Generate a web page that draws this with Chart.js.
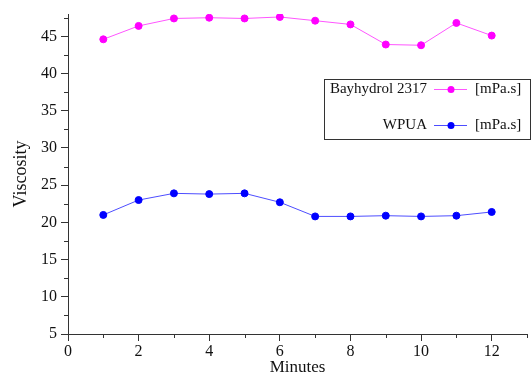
<!DOCTYPE html>
<html>
<head>
<meta charset="utf-8">
<script src="https://cdn.jsdelivr.net/npm/chart.js@4.4.0/dist/chart.umd.min.js"></script>
<style>
  body { margin: 0; background: #fff; }
  #wrap { width: 532px; height: 378px; }
</style>
</head>
<body>
<div id="wrap"><canvas id="viscChart"></canvas></div>
<script>
const minutes = [1, 2, 3, 4, 5, 6, 7, 8, 9, 10, 11, 12];
const bayhydrol = [44.6, 46.4, 47.4, 47.5, 47.4, 47.6, 47.1, 46.6, 43.9, 43.8, 46.8, 45.1];
const wpua = [21.0, 23.0, 23.9, 23.8, 23.9, 22.7, 20.8, 20.8, 20.9, 20.8, 20.9, 21.4];
const seriesNames = ['Bayhydrol 2317', 'WPUA'];
const unitLabel = '[mPa.s]';

const serif = "'Liberation Serif', 'DejaVu Serif', serif";
const axisColor = '#333';

// short minor ticks between the labelled ones
const minorTicks = {
  id: 'minorTicks',
  afterDraw(chart) {
    const { ctx, scales: { x, y } } = chart;
    ctx.save();
    ctx.strokeStyle = axisColor;
    ctx.lineWidth = 1;
    for (let v = 7.5; v < y.max; v += 5) {
      const py = Math.round(y.getPixelForValue(v)) + 0.5;
      ctx.beginPath();
      ctx.moveTo(y.right - 4, py);
      ctx.lineTo(y.right, py);
      ctx.stroke();
    }
    for (let v = 1; v <= x.max; v += 2) {
      const px = Math.round(x.getPixelForValue(v)) + 0.5;
      ctx.beginPath();
      ctx.moveTo(px, x.top);
      ctx.lineTo(px, x.top + 4);
      ctx.stroke();
    }
    ctx.restore();
  }
};

// boxed legend, right aligned
const boxLegend = {
  id: 'boxLegend',
  afterDraw(chart) {
    const ctx = chart.ctx;
    const left = 324, top = 79, right = 531, bottom = 140;
    ctx.save();
    ctx.fillStyle = '#fff';
    ctx.fillRect(left, top, right - left, bottom - top);
    ctx.strokeStyle = axisColor;
    ctx.lineWidth = 1;
    ctx.strokeRect(left + 0.5, top + 0.5, right - left - 1, bottom - top - 1);
    ctx.font = '15px ' + serif;
    ctx.textBaseline = 'middle';
    const rows = [89, 125];
    chart.data.datasets.forEach((ds, i) => {
      const ry = rows[i];
      ctx.fillStyle = '#111';
      ctx.textAlign = 'right';
      ctx.fillText(ds.label, 427, ry);
      ctx.strokeStyle = ds.borderColor;
      ctx.beginPath();
      ctx.moveTo(434, ry + 0.5);
      ctx.lineTo(467, ry + 0.5);
      ctx.stroke();
      ctx.fillStyle = ds.pointBackgroundColor;
      ctx.beginPath();
      ctx.arc(451, ry + 0.5, 3.5, 0, Math.PI * 2);
      ctx.fill();
      ctx.fillStyle = '#111';
      ctx.textAlign = 'left';
      ctx.fillText(unitLabel, 475, ry);
    });
    ctx.restore();
  }
};

new Chart(document.getElementById('viscChart'), {
  type: 'line',
  data: {
    labels: minutes,
    datasets: [{
      label: seriesNames[0],
      data: minutes.map((m, i) => ({ x: m, y: bayhydrol[i] })),
      borderColor: '#ff55ff',
      borderWidth: 1,
      pointBackgroundColor: '#ff00ff',
      pointBorderColor: '#ff00ff',
      pointRadius: 3.5,
      tension: 0
    }, {
      label: seriesNames[1],
      data: minutes.map((m, i) => ({ x: m, y: wpua[i] })),
      borderColor: '#4d4dff',
      borderWidth: 1,
      pointBackgroundColor: '#0000ff',
      pointBorderColor: '#0000ff',
      pointRadius: 3.5,
      tension: 0
    }]
  },
  options: {
    responsive: true,
    maintainAspectRatio: false,
    animation: false,
    layout: { padding: { top: 14, right: 2 } },
    plugins: {
      legend: { display: false },
      tooltip: { enabled: false }
    },
    scales: {
      x: {
        type: 'linear',
        min: 0,
        max: 13,
        afterFit: (s) => { s.height = 44; },
        border: { display: true, color: axisColor, width: 1 },
        grid: {
          drawOnChartArea: false,
          drawTicks: true,
          tickLength: 7,
          tickColor: (c) => (c.tick && c.tick.value % 2 === 0 ? axisColor : 'rgba(0,0,0,0)')
        },
        ticks: {
          stepSize: 1,
          autoSkip: false,
          maxRotation: 0,
          padding: 1,
          color: '#111',
          font: { family: serif, size: 16 },
          callback: (v) => (v % 2 === 0 ? v : '')
        },
        title: {
          display: true,
          text: 'Minutes',
          color: '#111',
          font: { family: serif, size: 17 },
          padding: { top: 2, bottom: 0 }
        }
      },
      y: {
        min: 5,
        max: 48,
        afterFit: (s) => { s.width = 68; },
        border: { display: true, color: axisColor, width: 1 },
        grid: {
          drawOnChartArea: false,
          drawTicks: true,
          tickLength: 7,
          tickColor: (c) => (c.tick && c.tick.value % 5 === 0 ? axisColor : 'rgba(0,0,0,0)')
        },
        ticks: {
          stepSize: 5,
          autoSkip: false,
          padding: 4,
          color: '#111',
          font: { family: serif, size: 16 },
          callback: (v) => (v % 5 === 0 ? v : '')
        },
        title: {
          display: true,
          text: 'Viscosity',
          color: '#111',
          font: { family: serif, size: 18 },
          padding: { top: 10, bottom: 2 }
        }
      }
    }
  },
  plugins: [minorTicks, boxLegend]
});
</script>
</body>
</html>
